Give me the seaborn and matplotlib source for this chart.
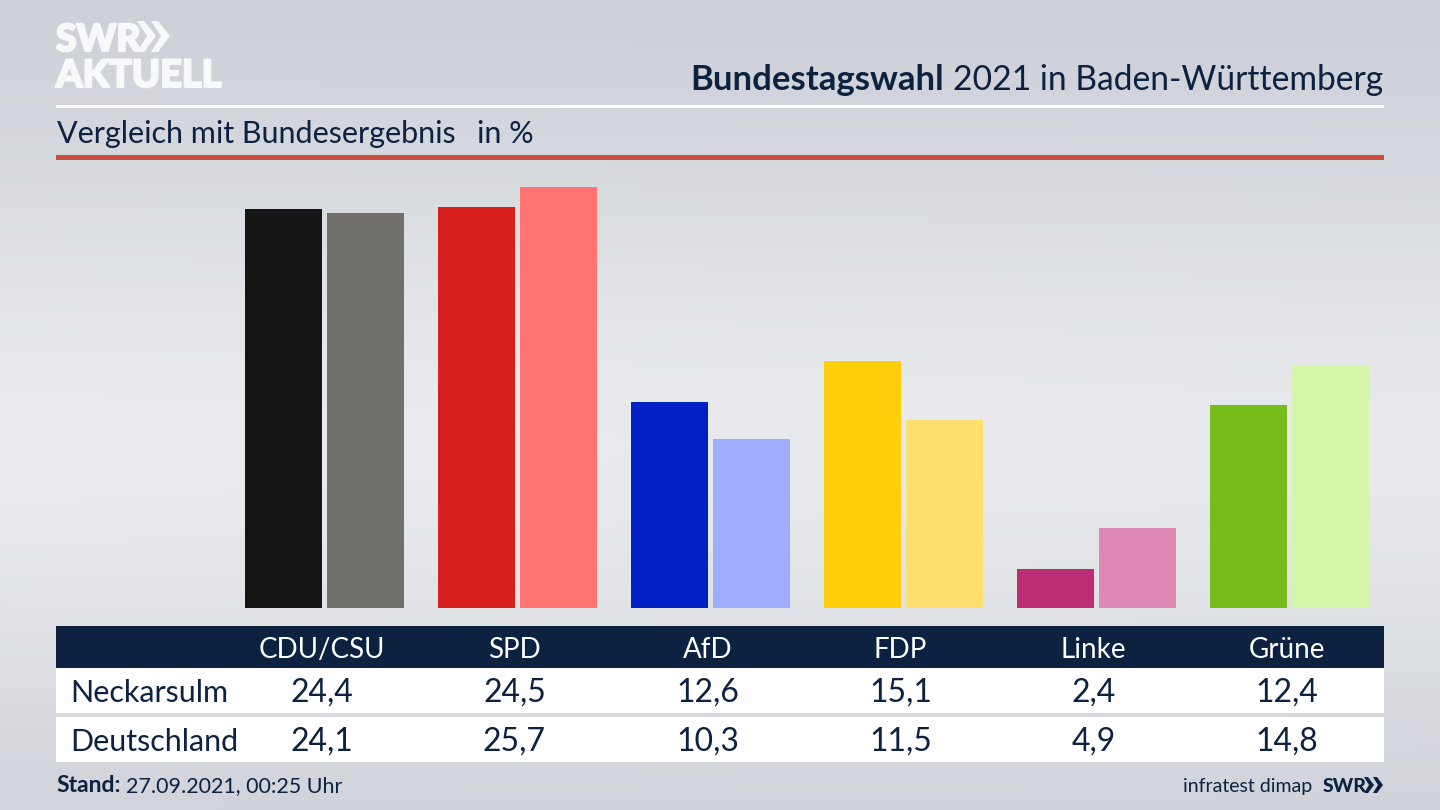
import numpy as np
import pandas as pd
import seaborn as sns
import matplotlib.pyplot as plt
import matplotlib.patheffects as pe
from matplotlib.colors import LinearSegmentedColormap
from matplotlib.patches import Polygon, Rectangle

parties = ['CDU/CSU', 'SPD', 'AfD', 'FDP', 'Linke', 'Grüne']
neckarsulm = [24.4, 24.5, 12.6, 15.1, 2.4, 12.4]
deutschland = [24.1, 25.7, 10.3, 11.5, 4.9, 14.8]
colors_neckarsulm = ['#151515', '#d71f1d', '#0022c4', '#ffcd0a', '#bb2d75', '#78bc1b']
colors_deutschland = ['#72706d', '#ff7470', '#9eadff', '#ffdf70', '#df87b5', '#d3f6a8']

navy = '#0c2240'
logo_white = '#f7f8f9'

sns.set_theme(style='white')
plt.rcParams['font.family'] = ['Lato', 'DejaVu Sans']

df = pd.DataFrame({
    'Partei': parties * 2,
    'Gebiet': ['Neckarsulm'] * 6 + ['Deutschland'] * 6,
    'Wert': neckarsulm + deutschland,
})

fig = plt.figure(figsize=(14.4, 8.1), dpi=100)

# background gradient
bg_ax = fig.add_axes([0, 0, 1, 1], zorder=0)
xx, yy = np.meshgrid(np.linspace(0, 1, 200), np.linspace(0, 1, 120))
glow = np.exp(-((yy - 0.55) / 0.36) ** 2) * (1 - 0.08 * xx)
bg_cmap = LinearSegmentedColormap.from_list('bg', ['#cbced5', '#e9ebee'])
bg_ax.imshow(glow, cmap=bg_cmap, aspect='auto', vmin=0, vmax=1)
bg_ax.axis('off')

# bars, axes box is the band between the red rule and the table
ax = fig.add_axes([56 / 1440, 1 - 608 / 810, 1328 / 1440, 448 / 810], zorder=1)
sns.barplot(data=df, x='Partei', y='Wert', hue='Gebiet', order=parties,
            hue_order=['Neckarsulm', 'Deutschland'], width=0.85, gap=0.06,
            saturation=1, legend=False, ax=ax)
for container, cols in zip(ax.containers, [colors_neckarsulm, colors_deutschland]):
    for bar, c in zip(container, cols):
        bar.set_facecolor(c)
        bar.set_edgecolor('none')
ax.set_xlim((56 - 324.5) / 193, (1384 - 324.5) / 193)
ax.set_ylim(0, 448 / 16.37)
ax.axis('off')

# overlay in pixel coordinates for header and table
ov = fig.add_axes([0, 0, 1, 1], zorder=2)
ov.set_xlim(0, 1440)
ov.set_ylim(810, 0)
ov.axis('off')
ov.patch.set_alpha(0)

# logo, stroke makes the letters as heavy as the original
heavy = [pe.withStroke(linewidth=1.5, foreground=logo_white)]
ov.text(56, 51, 'SWR', color=logo_white, fontsize=27, fontweight='black', path_effects=heavy)
ov.text(56, 87, 'AKTUELL', color=logo_white, fontsize=27.3, fontweight='black', path_effects=heavy)
for x0 in (137, 151):
    ov.add_patch(Polygon([(x0, 21), (x0 + 7, 21), (x0 + 19, 36), (x0 + 7, 52), (x0, 52), (x0 + 10, 36)],
                         color=logo_white, lw=0))

# header
ov.add_patch(Rectangle((56, 104.5), 1328, 3, color='white', lw=0))
ov.add_patch(Rectangle((56, 155), 1328, 5, color='#cb4f3e', lw=0))
ov.text(1383, 90, '2021 in Baden-Württemberg', color=navy, fontsize=24.2, ha='right')
ov.text(944, 90, 'Bundestagswahl', color=navy, fontsize=25, fontweight='bold', ha='right')
ov.text(57, 143, 'Vergleich mit Bundesergebnis', color=navy, fontsize=22)
ov.text(477, 143, 'in %', color=navy, fontsize=22)

# table
ov.add_patch(Rectangle((56, 626), 1328, 42, color=navy, lw=0))
ov.add_patch(Rectangle((56, 668), 1328, 45, color='white', lw=0))
ov.add_patch(Rectangle((56, 717), 1328, 45, color='white', lw=0))
ov.text(70, 702, 'Neckarsulm', color=navy, fontsize=22)
ov.text(70, 751, 'Deutschland', color=navy, fontsize=22)
for i, party in enumerate(parties):
    xc = 321.5 + i * 193
    ov.text(xc, 658, party, color='white', fontsize=20, ha='center')
    ov.text(xc, 702, f'{neckarsulm[i]:.1f}'.replace('.', ','), color=navy, fontsize=23, ha='center')
    ov.text(xc, 751, f'{deutschland[i]:.1f}'.replace('.', ','), color=navy, fontsize=23, ha='center')

# footer
ov.text(56, 792, 'Stand:', color=navy, fontsize=16.5, fontweight='bold')
ov.text(126, 792, '27.09.2021, 00:25 Uhr', color=navy, fontsize=15.5)
ov.text(1312, 792, 'infratest dimap', color=navy, fontsize=14, ha='right')
ov.text(1323, 792, 'SWR', color=navy, fontsize=14, fontweight='black')
for x0 in (1364, 1373):
    ov.add_patch(Polygon([(x0, 777), (x0 + 4, 777), (x0 + 10, 785), (x0 + 4, 793), (x0, 793), (x0 + 5, 785)],
                         color=navy, lw=0))

fig.savefig('out.png', dpi=100)
